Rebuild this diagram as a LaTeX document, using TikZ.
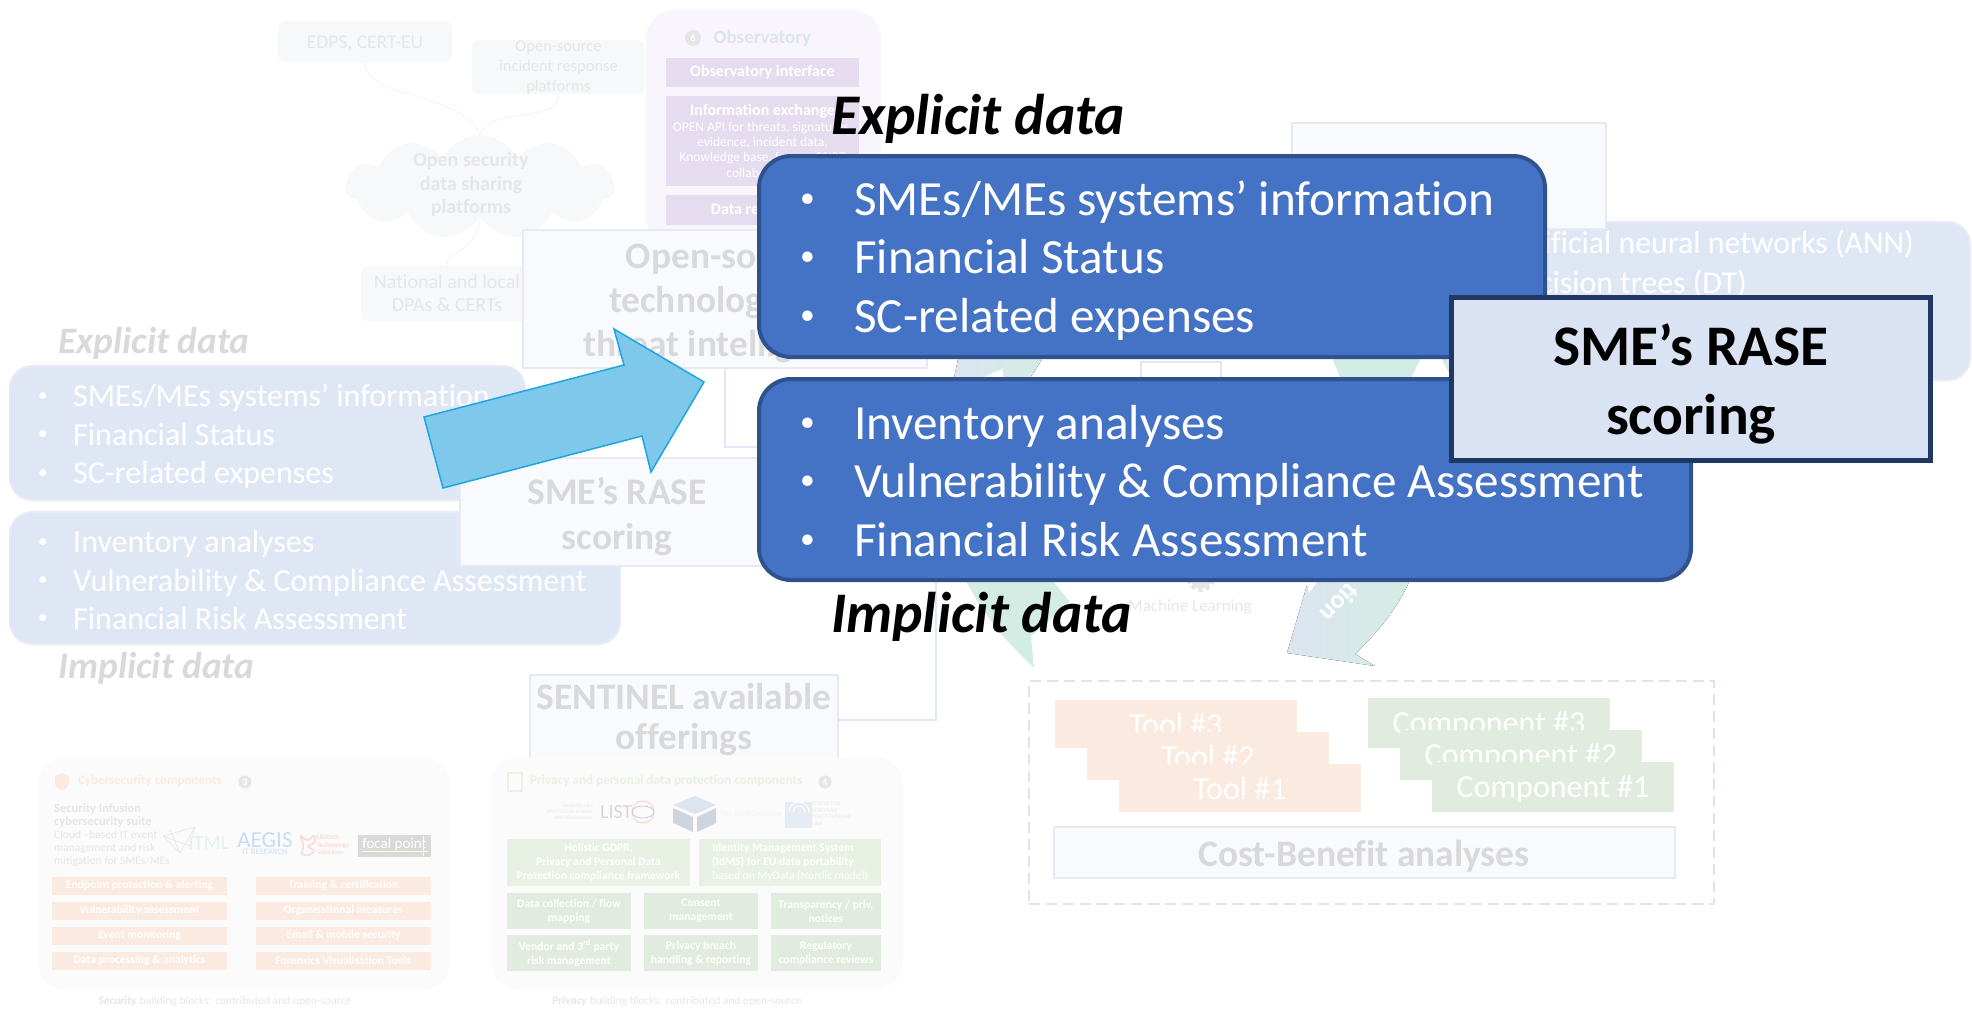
\documentclass[tikz,border=0pt]{standalone}
\usepackage{fontspec}
\setmainfont[Ligatures=NoCommon]{Carlito}
\usetikzlibrary{positioning}
\usetikzlibrary{shapes.symbols}

\definecolor{mainblue}{HTML}{4472C4}
\definecolor{mainedge}{HTML}{2F528F}
\definecolor{scorefill}{HTML}{DAE3F3}
\definecolor{scoreedge}{HTML}{203864}
\definecolor{arrowfill}{HTML}{7EC8EC}
\definecolor{arrowedge}{HTML}{1FA5DF}
\definecolor{palefill}{HTML}{E0E7F4}
\definecolor{paleedge}{HTML}{E6EBF5}
\definecolor{ghostfill}{HTML}{F8FAFE}
\definecolor{ghostedge}{HTML}{E6EAF2}
\definecolor{ghosttext}{HTML}{D9D9D9}
\definecolor{softfill}{HTML}{F7F8FA}
\definecolor{softtext}{HTML}{E6E6E6}
\definecolor{orangefill}{HTML}{FBEAE0}
\definecolor{greenfill}{HTML}{E2EBDF}
\definecolor{limefill}{HTML}{E8F1E3}
\definecolor{lilacfill}{HTML}{E6DCEF}
\definecolor{lilacpanel}{HTML}{F8F6FC}
\definecolor{tiecolor}{HTML}{E0E8F8}
\definecolor{mint}{HTML}{D4EDE4}
\definecolor{haze}{HTML}{DCE4F0}
\definecolor{aegisblue}{HTML}{C9DCF5}

\newcommand\listdot[1]{\makebox[#1][l]{\raisebox{.17em}{\scalebox{.6}{\textbullet}}}}

\tikzset{
  box/.style={anchor=north west,inner sep=0pt,outer sep=0pt},
  mainbox/.style={box,draw=mainedge,fill=mainblue,line width=4pt,rounded corners=32pt},
  palebox/.style={box,draw=paleedge,fill=palefill,line width=2pt,rounded corners=22pt},
  ghostbox/.style={box,draw=ghostedge,fill=ghostfill,line width=2.5pt},
  softbox/.style={box,fill=softfill,rounded corners=7pt,text=softtext,align=center},
  panelbox/.style={box,fill=#1,rounded corners=28pt},
  flatbox/.style={box,fill=#1,text=white,align=center},
  mainlist/.style={anchor=west,inner sep=0pt,align=left,text=white,font=\fontsize{49.2}{58.5}\selectfont},
  palelist/.style={anchor=west,inner sep=0pt,align=left,text=white,font=\fontsize{32}{38.3}\selectfont},
  maintitle/.style={anchor=base west,inner sep=0pt,font=\fontsize{57.4}{60}\selectfont\bfseries\itshape},
  paletitle/.style={anchor=base west,inner sep=0pt,text=ghosttext,font=\fontsize{37.4}{40}\selectfont\bfseries\itshape},
  ghosttitle/.style={align=center,text=ghosttext,font=\fontsize{37.4}{#1}\selectfont\bfseries},
  mltext/.style={anchor=base east,inner sep=0pt,text=white,font=\fontsize{31.8}{36}\selectfont},
  tieline/.style={draw=tiecolor,line width=1.2pt},
  softline/.style={draw=softfill!80!gray!20,line width=2pt},
  badge/.style={circle,fill=softtext,text=white,inner sep=0pt,minimum size=#1,font=\fontsize{10}{10}\selectfont\bfseries},
  smalltext/.style={text=softtext,font=\fontsize{11.5}{13}\selectfont},
  cardtext/.style={font=\fontsize{11.6}{14}\selectfont\bfseries},
  stacktext/.style={text depth=0pt,font=\fontsize{32}{36}\selectfont}
}

\begin{document}
\begin{tikzpicture}[x=1pt,y=-1pt]
\useasboundingbox (0,0) rectangle (1972,1010);

% open data sharing side
\node[softbox,minimum width=174pt,minimum height=41pt](edps) at (278,21){};
\node[text=softtext,font=\fontsize{19.5}{24}\selectfont](edpstext) at (365,43){EDPS, CERT-EU};
\node[softbox,minimum width=173pt,minimum height=54pt,font=\fontsize{16.5}{20}\selectfont](platforms) at (472,40){Open-source\\incident response\\platforms};
\node[cloud,cloud puffs=11,cloud puff arc=130,aspect=2.6,fill=softfill,inner sep=0pt,minimum width=268pt,minimum height=104pt](cloudnode) at (480,187){};
\node[text=softtext,align=center,font=\fontsize{20}{23.5}\selectfont\bfseries](cloudtext) at (471,185){Open security\\data sharing\\platforms};
\node[softbox,minimum width=172pt,minimum height=55pt,font=\fontsize{20}{23}\selectfont](dpas) at (361,266){National and local\\DPAs \& CERTs};
\draw[softline] (edps.south) .. controls (365,100) and (460,90) .. (cloudnode.north);
\draw[softline] (platforms.south) .. controls (559,125) and (490,105) .. (cloudnode.north);
\draw[softline] (cloudnode.south) .. controls (477,255) and (444,250) .. (dpas.north);

% observatory
\node[panelbox=lilacpanel,minimum width=235pt,minimum height=235pt](obspanel) at (646,10){};
\node[badge=16pt](obsbadge) at (693,38){6};
\node[right=9pt of obsbadge,text=haze,font=\fontsize{19}{22}\selectfont\bfseries](obstitle){Observatory};
\node[flatbox=lilacfill,minimum width=193pt,minimum height=29pt,font=\fontsize{16}{18}\selectfont\bfseries](obsiface) at (666,58){Observatory interface};
\node[flatbox=lilacfill,minimum width=193pt,minimum height=90pt,font=\fontsize{13.5}{15.3}\selectfont](obsinfo) at (666,96){{\fontsize{16}{17}\selectfont\bfseries Information exchange}\\OPEN API for threats, signatures,\\evidence, incident data,\\Knowledge base, forum, CSIRT\\collaboration};
\node[flatbox=lilacfill,minimum width=193pt,minimum height=30pt,font=\fontsize{16}{18}\selectfont\bfseries](obsdata) at (666,195){Data repository};

% ml side, mostly covered later
\node[palebox,minimum width=525pt,minimum height=158pt](mlbox) at (1445,222){};
\node[mltext](mlann) at (1914,253){Artificial neural networks (ANN)};
\node[mltext](mldt) at (1747,293){Decision trees (DT)};
\node[ghostbox,minimum width=314pt,minimum height=106pt](topbox) at (1292,123){};
\node[box,draw=softtext,fill=white,line width=1.5pt,minimum width=80pt,minimum height=40pt](midbox) at (1141,362){};

% circular arrows seen in the gaps
\fill[left color=haze,right color=mint] (954,378) -- (960,350) -- (1048,350) -- (1030,378) -- cycle;
\fill[white] (980,379) -- (1002,369) -- (1004,379) -- cycle;
\fill[mint] (1329,350) -- (1425,350) -- (1410,380) -- (1341,380) -- cycle;
\fill[haze] (1441,358) -- (1452,358) -- (1452,378) -- cycle;
\fill[mint] (963,575) .. controls (985,620) and (1010,645) .. (1034,668) -- (1031,636) -- (1070,602) -- (1048,575) -- cycle;
\fill[left color=haze,right color=mint] (1310,575) -- (1287,653) -- (1375,666) -- (1355,654) .. controls (1380,630) and (1400,605) .. (1412,575) -- cycle;
\fill[white] (1305,575) -- (1322,575) -- (1309,593) -- cycle;
\node[rotate=225,text=white,font=\fontsize{26}{28}\selectfont\bfseries](arrowword) at (1340,603){tion};
\draw[softtext,line width=6pt,dash pattern=on 4pt off 3pt] (1201,578) circle (11pt);
\fill[softtext] (1201,578) circle (11pt);
\node[anchor=west,inner sep=0pt,text=softtext,font=\fontsize{17}{22}\selectfont](mlearn) at (1128,607){Machine Learning};

% left lists
\node[palebox,minimum width=515pt,minimum height=134pt](explbox) at (10,366){};
\node[palebox,minimum width=610pt,minimum height=132pt](implbox) at (10,512){};
\node[palelist](expllist) at (38,436.5){\listdot{35pt}SMEs/MEs systems’ information\\\listdot{35pt}Financial Status\\\listdot{35pt}SC-related expenses};
\node[palelist](impllist) at (38,580){\listdot{35pt}Inventory analyses\\\listdot{35pt}Vulnerability \& Compliance Assessment\\\listdot{35pt}Financial Risk Assessment};
\node[paletitle](expltitle) at (58,353){Explicit data};
\node[paletitle](impltitle) at (58,678){Implicit data};

% ghost boxes
\node[ghostbox,minimum width=404pt,minimum height=138pt](openbox) at (523,230){};
\node[ghosttitle=44](opentext) at (725,303){Open-source\\technologies \&\\threat intelligence};
\node[ghostbox,minimum width=315pt,minimum height=108pt](scorebox) at (460,458){};
\node[ghosttitle=45](scoretext) at (617,517){SME’s RASE\\scoring};
\coordinate (midjoin) at (1000,447);
\draw[tieline] (openbox.south) |- (midjoin);
\node[ghostbox,minimum width=308pt,minimum height=90pt](sentinel) at (530,675){};
\node[ghosttitle=40](senttext) at (684,720){SENTINEL available\\offerings};
\coordinate (lowjoin) at (936,570);
\draw[tieline] (sentinel.east) -| (lowjoin);

% security panel
\node[panelbox=softfill!55,minimum width=412pt,minimum height=233pt](secpanel) at (38,757){};
\fill[orangefill] (62,773) -- (69,776) -- (69,783) .. controls (69,787) and (65,789) .. (62,790) .. controls (59,789) and (55,787) .. (55,783) -- (55,776) -- cycle;
\node[anchor=west,inner sep=0pt,text=orangefill,font=\fontsize{13}{18}\selectfont\bfseries](sectitle) at (78,781){Cybersecurity components};
\node[badge=13pt](secbadge) at (245,782){3};
\node[anchor=north west,align=left,smalltext,inner sep=0pt](secsuite) at (54,804){{\fontsize{12.5}{14}\selectfont\bfseries Security Infusion}\\{\fontsize{12.5}{14}\selectfont\bfseries cybersecurity suite}\\Cloud –based IT event\\management and risk\\mitigation for SMEs/MEs};
\draw[softtext,line width=.6pt] (163,836) -- (195,827) -- (180,853) -- cycle (163,836) -- (190,846) -- (195,827) (170,830) -- (180,853);
\node[text=mint!70,inner sep=0pt,font=\fontsize{20}{24}\selectfont](itml) at (209,843){ITML};
\node[text=aegisblue,inner sep=0pt,font=\fontsize{23}{26}\selectfont](aegis) at (265,840){AEGIS};
\node[below=1pt of aegis,inner sep=0pt,text=haze,font=\fontsize{8.5}{10}\selectfont\bfseries](aegissub){IT RESEARCH};
\draw[orangefill!80!red!60,line width=1.5pt,rounded corners=2pt] (300,835) -- (307,841) -- (315,835) -- (315,843) -- (307,846) -- (315,851) -- (308,856) -- (301,854) -- (304,846) -- cycle;
\node[text=orangefill!80!red!70,inner sep=0pt,font=\fontsize{7}{7.5}\selectfont,align=left](redname) at (333,845){Ubitech\\Technology\\Solutions};
\node[box,fill=ghosttext,text=white,minimum width=73pt,minimum height=22pt,text depth=5pt,font=\fontsize{15}{16}\selectfont](focal) at (358,835){focal point};
\draw[white!85!yellow,line width=.5pt] (362,851) -- (428,851) (423,836) -- (423,856);
\foreach \lab [count=\i] in {Endpoint protection \& alerting,Vulnerability assessment,Event monitoring,Data processing \& analytics}
  \node[flatbox=orangefill,minimum width=175pt,minimum height=17.5pt,cardtext] (secl\i) at (52,877+25*\i-25) {\lab};
\foreach \lab [count=\i] in {Training \& certification,Organisational measures,Email \& mobile security,Forensics Visualisation Tools}
  \node[flatbox=orangefill,minimum width=175pt,minimum height=17.5pt,cardtext] (secr\i) at (256,877+25*\i-25) {\lab};
\node[smalltext](seccap) at (225,1001){\textbf{\textit{Security}} building blocks: contributed  and open-source};

% privacy panel
\node[panelbox=softfill!55,minimum width=412pt,minimum height=233pt](privpanel) at (491,757){};
\draw[limefill,line width=1.5pt] (508,773) rectangle (522,791);
\node[anchor=west,inner sep=0pt,text=limefill,font=\fontsize{13.2}{18}\selectfont\bfseries](privtitle) at (530,781){Privacy and personal data protection components};
\node[badge=13pt](privbadge) at (825,782){4};
\node[anchor=east,inner sep=0pt,align=right,text=softtext,font=\fontsize{5}{6}\selectfont](listname) at (593,812){LUXEMBOURG\\INSTITUTE OF SCIENCE\\AND TECHNOLOGY};
\node[anchor=west,inner sep=0pt,text=softtext!85!gray,font=\fontsize{20}{24}\selectfont](listmark) at (600,812){LIST};
\draw[orangefill!70!red!50,line width=1pt] (643,812) circle (11pt);
\draw[haze!70!blue!60,line width=.8pt] (643,812) ellipse (11pt and 6pt);
\fill[haze] (695,796) -- (716,805) -- (695,814) -- (673,805) -- cycle;
\fill[haze!85!gray] (673,808) -- (693,817) -- (693,832) -- (673,823) -- cycle;
\fill[haze!85!gray] (716,808) -- (697,817) -- (697,832) -- (716,823) -- cycle;
\node[anchor=west,inner sep=0pt,text=softtext!50,font=\fontsize{8}{9}\selectfont](shell) at (720,814){The Shell Company};
\node[box,fill=haze!70,minimum width=27pt,minimum height=26pt](ceclmark) at (785,802){};
\draw[white,line width=1pt] (793,812) arc (180:0:6pt) (789,812) arc (180:0:10pt);
\node[anchor=north west,inner sep=0pt,text=softtext,align=left,font=\fontsize{5.5}{6.5}\selectfont](cecl) at (812,802){CENTRE FOR\\EUROPEAN\\CONSTITUTIONAL\\LAW};
\node[flatbox=limefill,minimum width=183pt,minimum height=47pt,cardtext](gdpr) at (507,839){Holistic GDPR,\\Privacy and Personal Data\\Protection compliance framework};
\node[flatbox=limefill,minimum width=182pt,minimum height=47pt,cardtext,align=left](idms) at (699,839){Identity Management System\\(IdMS) for EU data portability\\{\mdseries based on MyData (Nordic model)}};
\node[flatbox=greenfill,minimum width=124pt,minimum height=36pt,cardtext](card1) at (507,893){Data collection / flow\\mapping};
\node[flatbox=greenfill,minimum width=114pt,minimum height=36pt,cardtext](card2) at (644,893){Consent\\management};
\node[flatbox=greenfill,minimum width=110pt,minimum height=36pt,cardtext](card3) at (771,893){Transparency / priv.\\notices};
\node[flatbox=greenfill,minimum width=124pt,minimum height=36pt,cardtext](card4) at (507,935){Vendor and 3\textsuperscript{rd} party\\risk management};
\node[flatbox=greenfill,minimum width=114pt,minimum height=36pt,cardtext](card5) at (644,935){Privacy breach\\handling \& reporting};
\node[flatbox=greenfill,minimum width=110pt,minimum height=36pt,cardtext](card6) at (771,935){Regulatory\\compliance reviews};
\node[smalltext](privcap) at (677,1001){\textbf{\textit{Privacy}} building blocks: contributed  and open-source};

% tools and components
\node[box,draw=haze,dash pattern=on 11pt off 6pt,line width=2.5pt,minimum width=685pt,minimum height=223pt](costframe) at (1029,681){};
\node[flatbox=orangefill,minimum width=242pt,minimum height=48pt,stacktext](tool3) at (1055,700){Tool \#3};
\node[flatbox=orangefill,minimum width=242pt,minimum height=48pt,stacktext](tool2) at (1087,732){Tool \#2};
\node[flatbox=orangefill,minimum width=242pt,minimum height=48pt,stacktext](tool1) at (1119,764){Tool \#1};
\node[flatbox=greenfill,minimum width=242pt,minimum height=50pt,stacktext](comp3) at (1368,698){Component \#3};
\node[flatbox=greenfill,minimum width=242pt,minimum height=50pt,stacktext](comp2) at (1400,730){Component \#2};
\node[flatbox=greenfill,minimum width=242pt,minimum height=50pt,stacktext](comp1) at (1432,762){Component \#1};
\node[ghostbox,minimum width=621pt,minimum height=51pt](costbox) at (1054,827){};
\node[ghosttitle=40](costtext) at (1364,856){Cost-Benefit analyses};

% arrow
\draw[draw=arrowedge,fill=arrowfill,line width=1.5pt,line join=miter] (424,417) -- (624,365) -- (614,329) -- (704,382) -- (651,472) -- (642,436) -- (443,488) -- cycle;

% main boxes
\node[mainbox,minimum width=786pt,minimum height=201pt](explmain) at (759,156){};
\node[mainbox,minimum width=932pt,minimum height=201pt](implmain) at (759,379){};
\node[mainlist](explmainlist) at (800,260.5){\listdot{54pt}SMEs/MEs systems’ information\\\listdot{54pt}Financial Status\\\listdot{54pt}SC-related expenses};
\node[mainlist](implmainlist) at (800,481){\listdot{54pt}Inventory analyses\\\listdot{54pt}Vulnerability \& Compliance Assessment\\\listdot{54pt}Financial Risk Assessment};
\node[maintitle](explhead) at (831,134){Explicit data};
\node[maintitle](implhead) at (831,632){Implicit data};
\node[box,draw=scoreedge,fill=scorefill,line width=5pt,minimum width=479pt,minimum height=163pt](scorefront) at (1451.5,297.5){};
\node[align=center,font=\fontsize{57.4}{69}\selectfont\bfseries](scorelabel) at (1691,384){SME’s RASE\\scoring};

\end{tikzpicture}
\end{document}
